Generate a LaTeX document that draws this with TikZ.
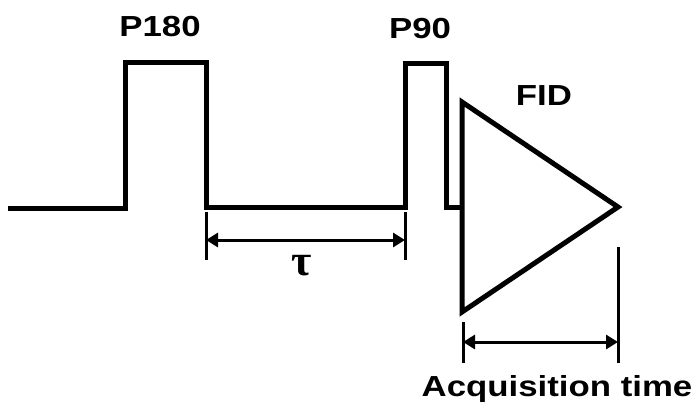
\documentclass[tikz,border=0pt]{standalone}
\usepackage{fontspec}
\setmainfont{Liberation Sans}
\newfontfamily\grkfont{Liberation Serif}
\usetikzlibrary{arrows.meta}
\begin{document}
\begin{tikzpicture}[x=1pt,y=-1pt,
  wave/.style={line width=5pt,line join=miter},
  tick/.style={line width=3pt},
  dim/.style={line width=3pt,{Triangle[length=12pt,width=14pt]}-{Triangle[length=12pt,width=14pt]}},
  lbl/.style={font=\fontsize{29}{30}\selectfont\bfseries\addfontfeature{FakeStretch=1.2},inner sep=0pt}]
\useasboundingbox (0,0) rectangle (693,408);
% pulse sequence
\draw[wave] (8,208) -- (125,208) -- (125,62) -- (206,62) -- (206,207) -- (405,207) -- (405,63) -- (446,63) -- (446,207) -- (462,207);
% FID
\draw[wave] (462,102) -- (618,207) -- (462,312) -- cycle;
% tau
\coordinate (t1) at (206,240);
\coordinate (t2) at (405,240);
\draw[tick] (206,212) -- (206,260);
\draw[tick] (405,212) -- (405,260);
\draw[dim] (t1) -- (t2);
\node[inner sep=0pt,font=\grkfont\bfseries\fontsize{44}{44}\selectfont] (tau) at (302,266) {τ};
% acquisition time
\coordinate (a1) at (463,342);
\coordinate (a2) at (618,342);
\draw[tick] (463,322) -- (463,363);
\draw[tick] (618,247) -- (618,363);
\draw[dim] (a1) -- (a2);
% labels
\node[lbl] (p180) at (160,27) {P180};
\node[lbl] (p90) at (420,29) {P90};
\node[lbl] (fid) at (544,96) {FID};
\node[lbl,anchor=base] (acq) at (557,396) {Acquisition time};
\end{tikzpicture}
\end{document}
